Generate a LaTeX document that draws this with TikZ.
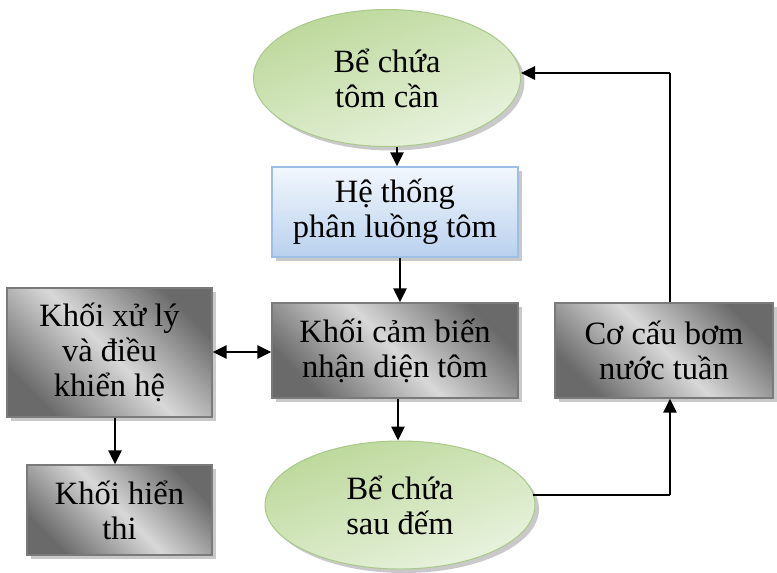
\documentclass[tikz,border=0pt]{standalone}
\usepackage{fontspec}
\setmainfont{Liberation Serif}
\usetikzlibrary{shapes.geometric,arrows.meta,shadows,calc}
\definecolor{grdark}{HTML}{6A6A6A}
\definecolor{grlight}{HTML}{D8D8D8}
\definecolor{grborder}{HTML}{7A7A7A}
\definecolor{gnA}{HTML}{BCD89A}
\definecolor{gnB}{HTML}{E9F3DF}
\definecolor{gnborder}{HTML}{A9C98A}
\definecolor{blA}{HTML}{F2F7FD}
\definecolor{blB}{HTML}{B9D1EE}
\definecolor{blborder}{HTML}{9DBFE6}
\tikzset{
  txt/.style={font=\fontsize{32.5}{35}\selectfont, align=center, text=black, inner sep=0pt},
  shd/.style={drop shadow={shadow xshift=4pt, shadow yshift=-4pt, opacity=0.35, fill=black!60}},
  graybox/.style={txt, rectangle, draw=grborder, line width=1.2pt, shd,
    top color=grdark, bottom color=grdark, middle color=grlight, shading angle=-45},
  bluebox/.style={txt, rectangle, draw=blborder, line width=1.2pt, shd,
    top color=blA, bottom color=blB},
  tank/.style={txt, ellipse, draw=gnborder, line width=1pt, shd,
    left color=gnA, right color=gnB, shading angle=20},
  arr/.style={line width=2.8pt, -{Triangle[length=14pt,width=13pt]}},
  darr/.style={line width=2.8pt, {Triangle[length=14pt,width=13pt]}-{Triangle[length=14pt,width=13pt]}},
  ln/.style={line width=2.8pt}
}
\begin{document}
\begin{tikzpicture}[x=1pt,y=-1pt]
\useasboundingbox (0,0) rectangle (777,573);
\fill[white] (0,0) rectangle (777,573);

\node[tank, minimum width=267pt, minimum height=137pt] (e1) at (387,78) {Bể chứa\\tôm cần};
\node[bluebox, minimum width=246pt, minimum height=90pt] (b1) at (395,212) {Hệ thống\\phân luồng tôm};
\node[graybox, minimum width=246pt, minimum height=95pt] (b2) at (395,350.5) {Khối cảm biến\\nhận diện tôm};
\node[graybox, minimum width=205pt, minimum height=129pt] (b3) at (109.5,352.5) {Khối xử lý\\và điều\\khiển hệ};
\node[graybox, minimum width=185pt, minimum height=90pt] (b4) at (119.5,510) {Khối hiển\\thi};
\node[tank, minimum width=270pt, minimum height=128pt] (e2) at (400,505) {Bể chứa\\sau đếm};
\node[graybox, minimum width=218pt, minimum height=95pt] (b5) at (664,350.5) {Cơ cấu bơm\\nước tuần};

\coordinate (c1) at (670,495);
\coordinate (c2) at (670,73);

\draw[arr] (397,0 |- e1.south) -- (397,0 |- b1.north);
\draw[arr] (400,0 |- b1.south) -- (400,0 |- b2.north);
\draw[arr] (398,0 |- b2.south) -- (398,0 |- e2.north);
\draw[darr] (b3.east |- 0,352) -- (b2.west |- 0,352);
\draw[arr] (115,0 |- b3.south) -- (115,0 |- b4.north);
\draw[ln] (e2.east |- c1) ++(-3,0) -- (c1);
\draw[arr] (c1) -- (c1 |- b5.south);
\draw[ln] (c2 |- b5.north) -- (c2);
\draw[arr] (c2) -- (e1.east |- c2);
\end{tikzpicture}
\end{document}
